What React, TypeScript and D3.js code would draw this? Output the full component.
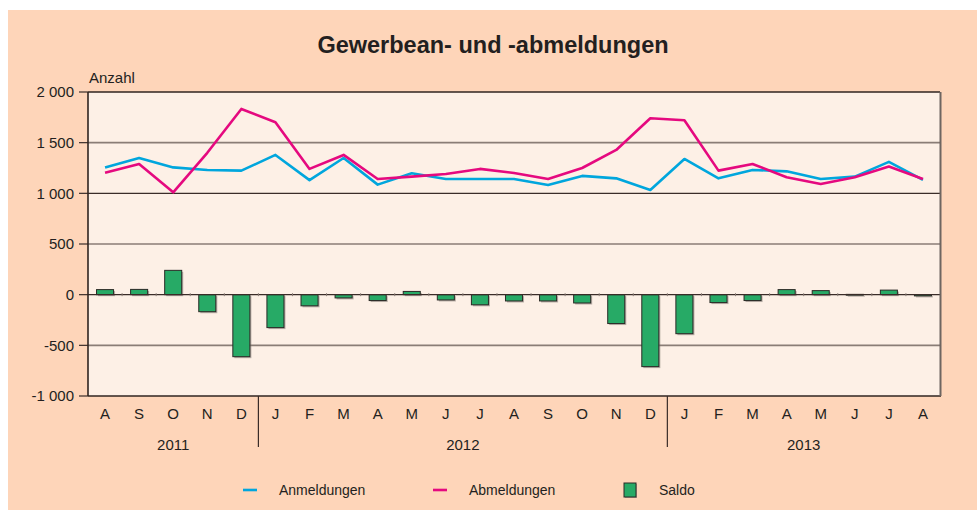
import React from "react";
import * as d3 from "d3";

const months = ["A","S","O","N","D","J","F","M","A","M","J","J","A","S","O","N","D","J","F","M","A","M","J","J","A"];
const years = [
  { label: "2011", start: 0, end: 4 },
  { label: "2012", start: 5, end: 16 },
  { label: "2013", start: 17, end: 24 },
];
const anmeldungen = [1254,1349,1256,1231,1224,1379,1130,1349,1086,1198,1142,1142,1142,1083,1172,1148,1033,1339,1148,1231,1217,1142,1165,1310,1132];
const abmeldungen = [1204,1290,1010,1400,1833,1701,1241,1379,1142,1165,1191,1241,1201,1142,1250,1428,1741,1721,1224,1290,1159,1093,1159,1264,1142];
const saldo = [50,52,240,-168,-612,-325,-110,-32,-58,32,-52,-100,-62,-62,-82,-285,-710,-385,-78,-58,50,40,3,45,-12];
const yTicks = [2000,1500,1000,500,0,-500,-1000];
const legendItems = ["Anmeldungen","Abmeldungen","Saldo"];

const W = 977, H = 510;
const M = { left: 88, right: 940, top: 92, bottom: 396 };
const FONT = "'Liberation Sans', Arial, sans-serif";
const TXT = "#231f20";
const BLUE = "#00a6dd";
const PINK = "#e5097f";
const GREEN = "#27aa66";

function fmt(v: number) {
  const s = Math.abs(v).toString();
  const r = s.length > 3 ? s.slice(0, s.length - 3) + " " + s.slice(-3) : s;
  return (v < 0 ? "-" : "") + r;
}

export default function App() {
  const x = d3.scaleBand<number>().domain(d3.range(months.length)).range([M.left, M.right]).paddingInner(0).paddingOuter(0);
  const y = d3.scaleLinear().domain([-1000, 2000]).range([M.bottom, M.top]);
  const bw = x.bandwidth();
  const cx = (i: number) => (x(i) as number) + bw / 2;
  const line = d3.line<number>().x((_, i) => cx(i)).y((d) => y(d));
  const barW = bw * 0.5;

  return (
    <div style={{ position: "absolute", left: 0, top: 0 }}>
      <svg width={W} height={H} style={{ display: "block" }} fontFamily={FONT}>
        <rect x={0} y={0} width={W} height={H} fill="#ffffff" />
        <rect x={8} y={10} width={W - 8} height={H - 10} fill="#fed5b9" />
        <text x={493} y={53} textAnchor="middle" fontSize={23.5} fontWeight="bold" fill={TXT}>
          Gewerbean- und -abmeldungen
        </text>
        <text x={89} y={83} fontSize={15} fill={TXT}>Anzahl</text>
        <rect x={M.left} y={M.top} width={M.right - M.left} height={M.bottom - M.top} fill="#fdf0e6" />
        {yTicks.map((t) => {
          const dark = t === 1000;
          return (
            <g key={t}>
              {!(t === 2000 || t === -1000 || t === 0) && (
                <line x1={M.left} x2={M.right} y1={y(t)} y2={y(t)} stroke={dark ? "#3a2c28" : "#8a7d76"} strokeWidth={dark ? 1.2 : 1.6} />
              )}
              <line x1={M.left - 9} x2={M.left} y1={y(t)} y2={y(t)} stroke="#3a2c28" strokeWidth={1.2} />
              <text x={74} y={y(t)} dy="0.36em" textAnchor="end" fontSize={15} fill={TXT}>{fmt(t)}</text>
            </g>
          );
        })}
        {saldo.map((v, i) => {
          const x0 = cx(i) - barW / 2;
          const y0 = Math.min(y(v), y(0));
          const h = Math.max(Math.abs(y(v) - y(0)), 0.8);
          return (
            <g key={i}>
              <rect x={x0 + 1.5} y={y0 + 1.5} width={barW} height={h} fill="#7d7570" opacity={0.55} />
              <rect x={x0} y={y0} width={barW} height={h} fill={GREEN} stroke="#2a2a26" strokeWidth={1} />
            </g>
          );
        })}
        <line x1={M.left} x2={M.right} y1={y(0)} y2={y(0)} stroke="#3a2c28" strokeWidth={1.2} />
        {d3.range(1, months.length).map((i) => (
          <line key={i} x1={x(i) as number} x2={x(i) as number} y1={y(0) - 1.5} y2={y(0) + 1.5} stroke="#8a7d76" strokeWidth={1} />
        ))}
        <path d={line(anmeldungen) || ""} fill="none" stroke={BLUE} strokeWidth={2.6} strokeLinejoin="round" />
        <path d={line(abmeldungen) || ""} fill="none" stroke={PINK} strokeWidth={2.6} strokeLinejoin="round" />
        <line x1={M.left} x2={M.right} y1={M.top} y2={M.top} stroke="#2f2420" strokeWidth={1.4} />
        <line x1={M.left} x2={M.right + 1} y1={M.bottom} y2={M.bottom} stroke="#2f2420" strokeWidth={1.4} />
        <line x1={M.right + 0.5} x2={M.right + 0.5} y1={M.top} y2={M.bottom} stroke="#6e6560" strokeWidth={2} />
        <line x1={M.left} x2={M.left} y1={M.top} y2={M.bottom} stroke="#2f2420" strokeWidth={1.6} />
        {months.map((m, i) => (
          <text key={i} x={cx(i)} y={413.5} dy="0.36em" textAnchor="middle" fontSize={15} fill={TXT}>{m}</text>
        ))}
        {years.map((yr, k) => (
          <g key={yr.label}>
            {k > 0 && (
              <line x1={x(yr.start) as number} x2={x(yr.start) as number} y1={M.bottom} y2={447} stroke="#3a2c28" strokeWidth={1.2} />
            )}
            <text x={((x(yr.start) as number) + (x(yr.end) as number) + bw) / 2} y={445} dy="0.36em" textAnchor="middle" fontSize={15} fill={TXT}>{yr.label}</text>
          </g>
        ))}
        <line x1={243} x2={257} y1={490} y2={490} stroke={BLUE} strokeWidth={2.6} />
        <text x={279} y={490} dy="0.36em" fontSize={14} fill={TXT}>{legendItems[0]}</text>
        <line x1={433} x2={447} y1={490} y2={490} stroke={PINK} strokeWidth={2.6} />
        <text x={469} y={490} dy="0.36em" fontSize={14} fill={TXT}>{legendItems[1]}</text>
        <rect x={625} y={484} width={12} height={14} fill="#7d7570" opacity={0.55} />
        <rect x={624} y={483} width={12} height={14} fill={GREEN} stroke="#2a2a26" strokeWidth={1} />
        <text x={659} y={490} dy="0.36em" fontSize={14} fill={TXT}>{legendItems[2]}</text>
      </svg>
    </div>
  );
}
